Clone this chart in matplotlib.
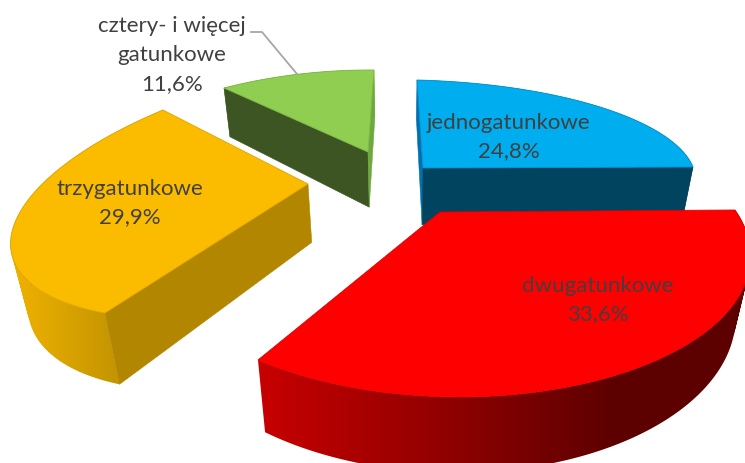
import numpy as np
import matplotlib
matplotlib.use("Agg")
import matplotlib.pyplot as plt
from matplotlib.colors import LinearSegmentedColormap
from matplotlib.patches import Polygon, PathPatch
from matplotlib.path import Path

#Chart data
categories = ["jednogatunkowe", "dwugatunkowe", "trzygatunkowe", "cztery- i więcej\ngatunkowe"]
shares = [24.8, 33.6, 29.9, 11.6]

#Look of each slice, in slice order. The perspective of the picture is set by where
#the apex and the start, middle and end of the arc land in pixels
apex = [(423, 168), (440, 212), (308, 184), (368, 152)]
arc_start = [(417, 80), (735, 210), (163, 110), (224, 88)]
arc_mid = [(600, 107), (640, 367), (13, 228), (300, 74)]
arc_end = [(693, 167), (258, 360), (105, 313), (374, 70)]
depth_scale = [0.85, 0.95, 1.0, 1.0]
top_color = ["#00adef", "#ff0000", "#fbbc00", "#8fce50"]
edge_color = ["#0590d0", "#e00000", "#dca500", "#7cb845"]
start_face = ["#0070b0", None, None, "#3d5522"]
end_face = ["#00445f", None, "#b38600", "#6fa83e"]
wall_left = ["#0070b0", "#c80000", "#f0b200", "#6fa83e"]
wall_right = ["#00445f", "#5c0000", "#c49500", "#6fa83e"]
wall_range = [(420, 690), (258, 620), (12, 117), (224, 375)]
label_pos = [(509, 137), (598, 300), (130, 203), (172, 55)]
draw_order = [3, 0, 2, 1]


#Finds the projective map from the flat unit pie to the picture
def fit_map(src, dst):
    rows = []
    rhs = []
    for (u, v), (x, y) in zip(src, dst):
        rows.append([u, v, 1, 0, 0, 0, -u*x, -v*x])
        rows.append([0, 0, 0, u, v, 1, -u*y, -v*y])
        rhs += [x, y]
    h = np.linalg.solve(np.array(rows, float), np.array(rhs, float))
    return np.append(h, 1).reshape(3, 3)


def apply_map(h, u, v):
    pts = h @ np.vstack([u, v, np.ones_like(u)])
    return np.column_stack([pts[0]/pts[2], pts[1]/pts[2]])


#Moves points of the top surface down to the bottom of the slice
def drop(pts, scale):
    d = (40 + 0.1*pts[:, 1])*scale
    return np.column_stack([pts[:, 0] + d*(400 - pts[:, 0])/1450, pts[:, 1] + d])


#The wall is the area swept between both arcs, built from quads that all turn the same way
def wall_path(arc, arc_low):
    verts = []
    codes = []
    for k in range(len(arc) - 1):
        quad = np.array([arc[k], arc[k+1], arc_low[k+1], arc_low[k]])
        x, y = quad[:, 0], quad[:, 1]
        if np.sum(x*np.roll(y, -1) - np.roll(x, -1)*y) < 0:
            quad = quad[::-1]
        verts += list(quad) + [quad[0]]
        codes += [Path.MOVETO, Path.LINETO, Path.LINETO, Path.LINETO, Path.CLOSEPOLY]
    return Path(np.array(verts), codes)


plt.rcParams['font.family'] = ['Lato', 'DejaVu Sans']
fig = plt.figure(figsize=(7.45, 4.63), dpi=100)
ax = fig.add_axes([0, 0, 1, 1])

fractions = np.array(shares)/sum(shares)
ends = np.cumsum(fractions)*2*np.pi
starts = ends - fractions*2*np.pi

z = 1
for i in draw_order:
    a0, a1 = starts[i], ends[i]
    am = (a0 + a1)/2
    src = [(0, 0), (np.sin(a0), np.cos(a0)), (np.sin(am), np.cos(am)), (np.sin(a1), np.cos(a1))]
    h = fit_map(src, [apex[i], arc_start[i], arc_mid[i], arc_end[i]])

    t = np.linspace(a0, a1, 160)
    arc = apply_map(h, np.sin(t), np.cos(t))
    arc_low = drop(arc, depth_scale[i])
    centre = np.array([apex[i]], float)
    centre_low = drop(centre, 1.0)

    #Outer wall: a horizontal gradient clipped to the wall outline
    wall = PathPatch(wall_path(arc, arc_low), fc='none', ec='none', zorder=z)
    ax.add_patch(wall)
    cmap = LinearSegmentedColormap.from_list("wall", [wall_left[i], wall_right[i]])
    x0, x1 = wall_range[i]
    grad = np.clip((np.arange(745) + 0.5 - x0)/(x1 - x0), 0, 1).reshape(1, -1)
    im = ax.imshow(grad, cmap=cmap, vmin=0, vmax=1, extent=(0, 745, 463, 0), aspect='auto', zorder=z)
    im.set_clip_path(wall)
    z += 1

    #Flat cut faces, only the ones that can be seen
    if start_face[i] is not None:
        quad = [centre[0], arc[0], arc_low[0], centre_low[0]]
        ax.add_patch(Polygon(quad, closed=True, fc=start_face[i], ec=start_face[i], lw=0.4, zorder=z))
        z += 1
    if end_face[i] is not None:
        quad = [centre[0], arc[-1], arc_low[-1], centre_low[0]]
        ax.add_patch(Polygon(quad, closed=True, fc=end_face[i], ec=end_face[i], lw=0.4, zorder=z))
        z += 1

    #Top surface
    top = np.vstack([centre, arc])
    ax.add_patch(Polygon(top, closed=True, fc=top_color[i], ec=edge_color[i], lw=0.6, joinstyle='round', zorder=z))
    z += 1

ax.set_xlim(0, 745)
ax.set_ylim(463, 0)
ax.axis('off')

#Leader line of the small slice
ax.plot([251, 262, 297], [32, 32, 74], color="#a6a6a6", lw=1.3, zorder=z)

for name, share, (x, y) in zip(categories, shares, label_pos):
    label = name + "\n" + f"{share:.1f}%".replace(".", ",")
    ax.text(x, y, label, ha='center', va='center', fontsize=16, color="#404040", linespacing=1.55, zorder=z+1)

fig.savefig("out.png", dpi=100)
